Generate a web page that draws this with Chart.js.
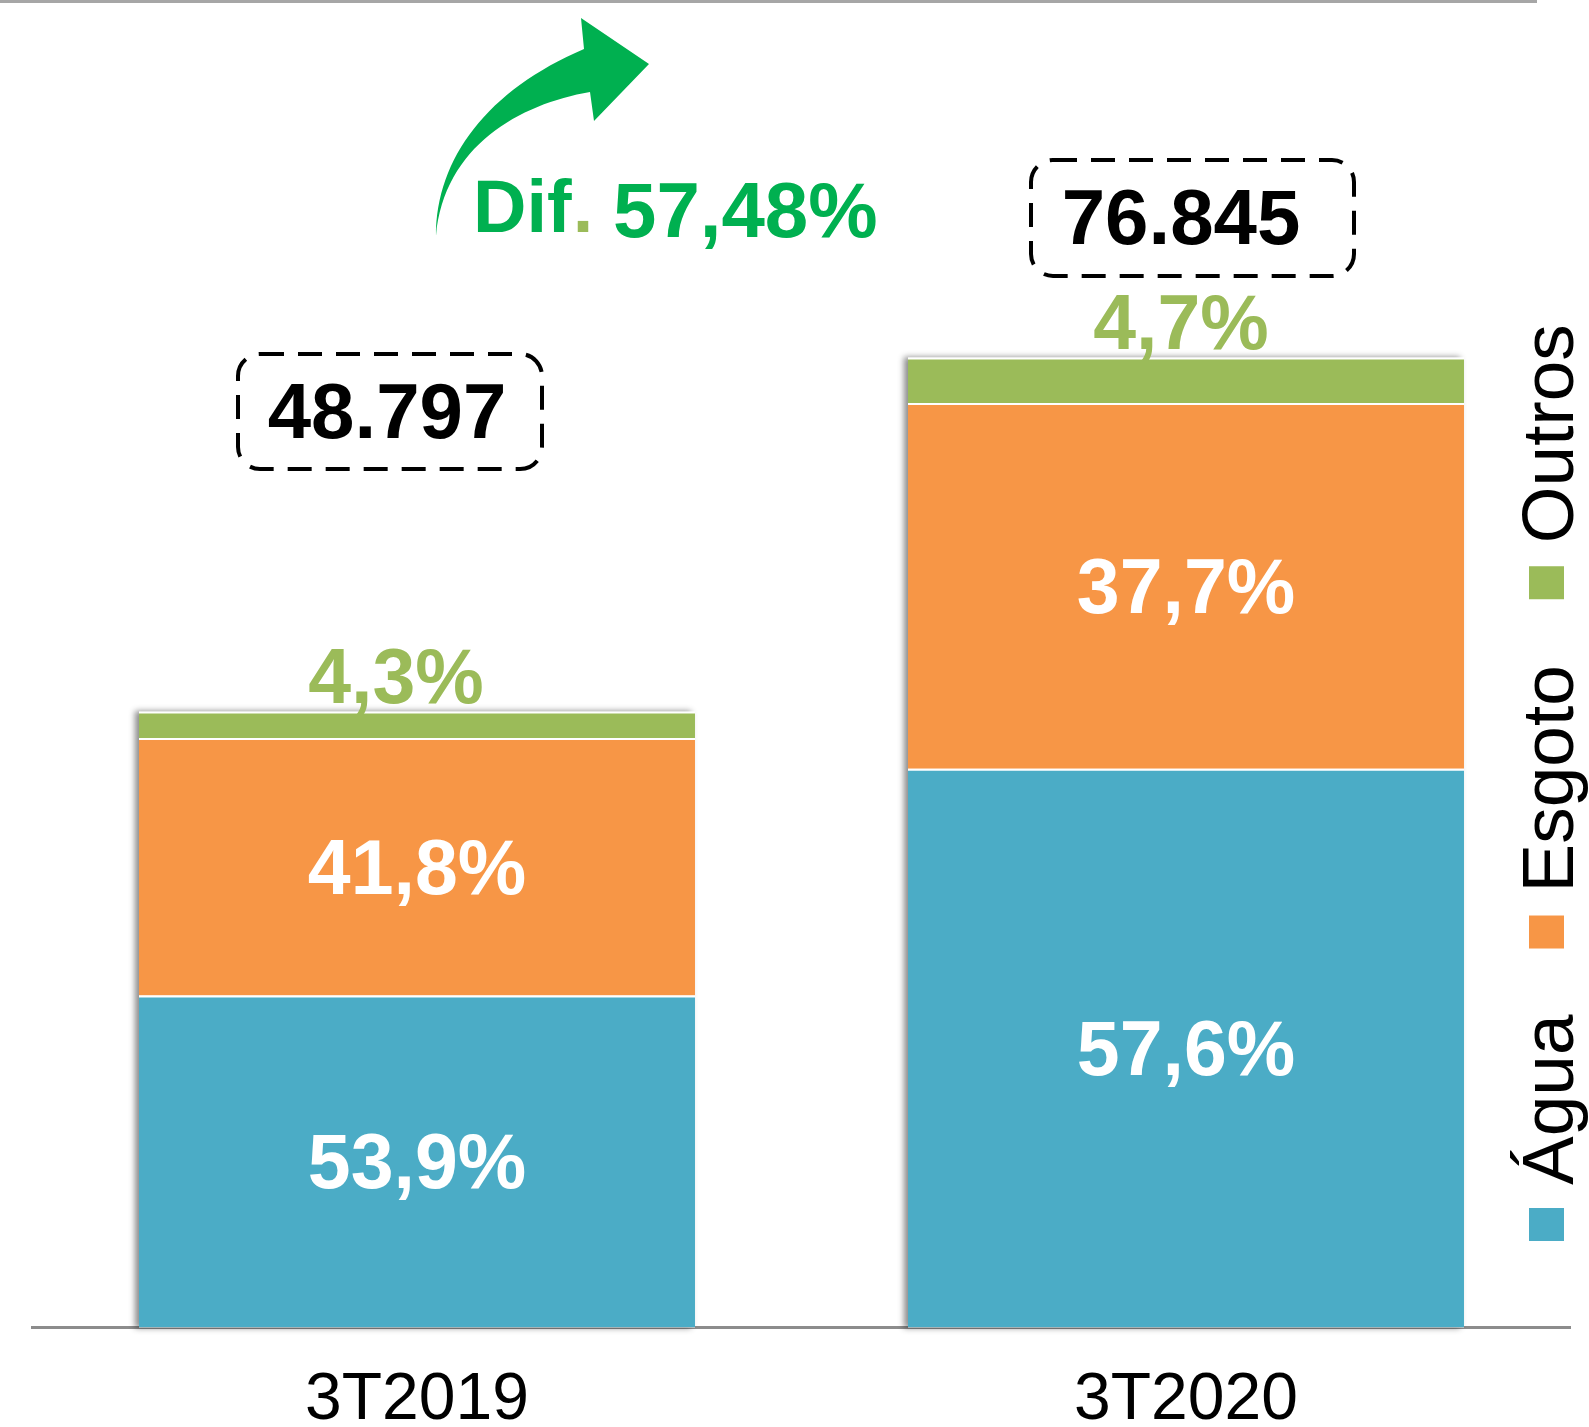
<!DOCTYPE html>
<html>
<head>
<meta charset="utf-8">
<script src="https://cdn.jsdelivr.net/npm/chart.js@4.4.0/dist/chart.umd.min.js"></script>
<style>
  html, body { margin: 0; padding: 0; background: #fff; }
  #wrap { width: 1589px; height: 1427px; position: relative; }
</style>
</head>
<body>
<div id="wrap"><canvas id="receitaChart"></canvas></div>
<script>
// Dados do gráfico
const trimestres = ["3T2019", "3T2020"];
const agua = [26302, 44263];
const esgoto = [20397, 28971];
const outros = [2098, 3612];
const aguaPct = ["53,9%", "57,6%"];
const esgotoPct = ["41,8%", "37,7%"];
const outrosPct = ["4,3%", "4,7%"];
const totais = ["48.797", "76.845"];
const diferenca = "57,48%";

const FONTE = "'Liberation Sans', Arial, sans-serif";
const CORES = { agua: "#4BACC6", esgoto: "#F79646", outros: "#9BBB59", seta: "#00B050" };

// Sombra cinza à esquerda das barras
const sombraBarras = {
  id: 'sombraBarras',
  beforeDatasetsDraw(chart) {
    const { ctx } = chart;
    const base = chart.getDatasetMeta(0).data;
    const topo = chart.getDatasetMeta(2).data;
    ctx.save();
    ctx.shadowColor = 'rgba(0,0,0,0.45)';
    ctx.shadowBlur = 6;
    ctx.shadowOffsetX = -4;
    ctx.fillStyle = '#fff';
    base.forEach((bar, i) => {
      const w = bar.width;
      ctx.fillRect(bar.x - w / 2, topo[i].y, w, bar.base - topo[i].y);
    });
    ctx.restore();
  }
};

// Percentuais, caixas de total, seta e legenda vertical
const extras = {
  id: 'extras',
  afterDraw(chart) {
    const { ctx } = chart;
    ctx.save();

    // linha cinza no topo
    ctx.strokeStyle = '#A6A6A6';
    ctx.lineWidth = 3;
    ctx.beginPath(); ctx.moveTo(0, 1.5); ctx.lineTo(1537, 1.5); ctx.stroke();

    // percentuais
    const pcts = [aguaPct, esgotoPct, outrosPct];
    const desvioOutros = [-21, -5];
    ctx.font = `bold 77px ${FONTE}`;
    ctx.textAlign = 'center';
    ctx.textBaseline = 'alphabetic';
    chart.data.datasets.forEach((ds, d) => {
      chart.getDatasetMeta(d).data.forEach((bar, i) => {
        if (d < 2) {
          ctx.fillStyle = '#fff';
          ctx.fillText(pcts[d][i], bar.x, (bar.y + bar.base) / 2 + 27);
        } else {
          ctx.fillStyle = CORES.outros;
          ctx.fillText(pcts[d][i], bar.x + desvioOutros[i], bar.y - 8);
        }
      });
    });

    // caixas tracejadas com o total
    const caixas = [
      { dx: -27, cy: 411.5, w: 304, h: 115, tx: -3 },
      { dx: 6.5, cy: 218, w: 323, h: 116, tx: -11.5 }
    ];
    const barras = chart.getDatasetMeta(0).data;
    caixas.forEach((c, i) => {
      const cx = barras[i].x + c.dx;
      ctx.strokeStyle = '#000';
      ctx.lineWidth = 4;
      ctx.setLineDash([24, 14]);
      ctx.beginPath();
      ctx.roundRect(cx - c.w / 2, c.cy - c.h / 2, c.w, c.h, 22);
      ctx.stroke();
      ctx.setLineDash([]);
      ctx.fillStyle = '#000';
      ctx.font = `bold 78px ${FONTE}`;
      ctx.textAlign = 'center';
      ctx.fillText(totais[i], cx + c.tx, c.cy + 26);
    });

    // seta curva verde
    ctx.fillStyle = CORES.seta;
    ctx.beginPath();
    ctx.moveTo(436, 236);
    ctx.bezierCurveTo(436, 158, 488, 90, 584, 49);
    ctx.lineTo(581, 18);
    ctx.lineTo(649, 64);
    ctx.lineTo(594, 121);
    ctx.lineTo(590, 92);
    ctx.bezierCurveTo(520, 104, 444, 146, 436, 236);
    ctx.closePath();
    ctx.fill();

    // texto "Dif. 57,48%"
    ctx.textAlign = 'left';
    ctx.font = `bold 74px ${FONTE}`;
    ctx.fillStyle = CORES.seta;
    ctx.fillText('Dif', 473, 232);
    const wDif = ctx.measureText('Dif').width;
    ctx.fillStyle = CORES.outros;
    ctx.fillText('.', 473 + wDif + 1, 232);
    ctx.font = `bold 78px ${FONTE}`;
    ctx.fillStyle = CORES.seta;
    ctx.fillText(diferenca, 613, 237);

    // legenda vertical
    ctx.font = `73px ${FONTE}`;
    let y = 1241;
    chart.data.datasets.forEach(ds => {
      ctx.fillStyle = ds.backgroundColor;
      ctx.fillRect(1529, y - 33, 35, 33);
      y -= 33 + 23;
      ctx.save();
      ctx.translate(1573, y);
      ctx.rotate(-Math.PI / 2);
      ctx.fillStyle = '#000';
      ctx.fillText(ds.label, 0, 0);
      ctx.restore();
      y -= ctx.measureText(ds.label).width + 66;
    });

    ctx.restore();
  }
};

new Chart(document.getElementById("receitaChart"), {
  type: 'bar',
  data: {
    labels: trimestres,
    datasets: [
      { label: "Água", data: agua, backgroundColor: CORES.agua },
      { label: "Esgoto", data: esgoto, backgroundColor: CORES.esgoto },
      { label: "Outros", data: outros, backgroundColor: CORES.outros }
    ].map(ds => ({
      ...ds,
      borderColor: '#fff',
      borderWidth: { top: 2, left: 0, right: 0, bottom: 0 },
      borderSkipped: false,
      barPercentage: 0.723,
      categoryPercentage: 1
    }))
  },
  options: {
    responsive: true,
    maintainAspectRatio: false,
    animation: false,
    layout: { padding: { left: 32.5, right: 18.5, top: 2, bottom: 0 } },
    plugins: {
      legend: { display: false },
      tooltip: { enabled: false },
      title: { display: false }
    },
    scales: {
      x: {
        stacked: true,
        z: 1,
        grid: { display: false, drawTicks: false },
        border: { display: true, color: '#8C8C8C', width: 3 },
        ticks: { color: '#000', font: { family: FONTE, size: 66 }, padding: 34 },
        afterFit: scale => { scale.height = 99.5; }
      },
      y: { stacked: true, display: false, min: 0, max: 105000 }
    }
  },
  plugins: [sombraBarras, extras]
});
</script>
</body>
</html>
